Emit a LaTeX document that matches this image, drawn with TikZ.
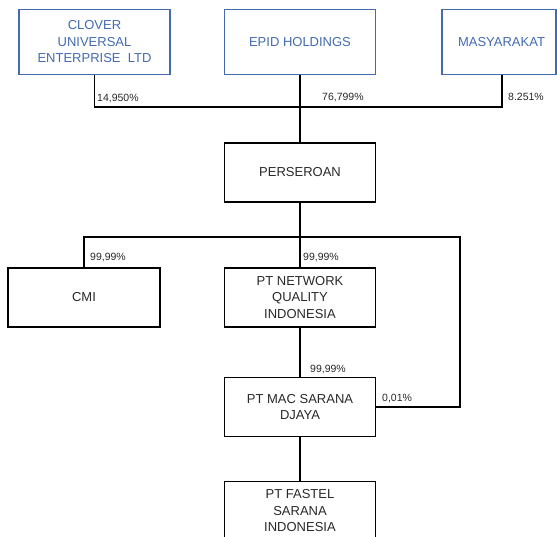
\documentclass[tikz,border=0pt]{standalone}
\usepackage{fontspec}
\setmainfont{Liberation Sans}
\definecolor{boxblue}{RGB}{68,106,175}
\definecolor{txt}{RGB}{40,40,40}
\begin{document}
\begin{tikzpicture}[x=1pt,y=-1pt,
  box/.style={draw, line width=1.1pt, rectangle, inner sep=0pt, align=center, text=txt,
    minimum width=151pt, minimum height=59pt, font=\fontsize{13}{16.5}\selectfont},
  topbox/.style={box, draw=boxblue, text=boxblue, minimum height=65pt},
  link/.style={line width=1.4pt},
  pct/.style={anchor=base west, inner sep=0pt, text=txt, font=\fontsize{10.5}{12}\selectfont}]
\useasboundingbox (0,0) rectangle (557,536);
\node[topbox] (clover) at (94.5,42) {CLOVER\\UNIVERSAL\\ENTERPRISE\ \ LTD};
\node[topbox] (epid) at (300,42) {EPID HOLDINGS};
\node[topbox, minimum width=114pt] (masy) at (499,42) {\hspace*{5pt}MASYARAKAT};
\node[box] (pers) at (300,172.5) {PERSEROAN};
\node[box, minimum width=152pt] (cmi) at (84,297.5) {CMI};
\node[box] (ptn) at (300,297.5) {PT NETWORK\\QUALITY\\INDONESIA};
\node[box] (mac) at (300,407) {PT MAC SARANA\\DJAYA};
\node[box] (fastel) at (300,511) {PT FASTEL\\SARANA\\INDONESIA};
\coordinate (j1) at (300,107);
\coordinate (c1) at (460,237);
\draw[link] (clover.south) |- (j1) -| ([xshift=3pt]masy.south);
\draw[link] (epid.south) -- (pers.north);
\draw[link] (cmi.north) |- (c1) |- (mac.east);
\draw[link] (pers.south) -- (ptn.north);
\draw[link] (ptn.south) -- (mac.north);
\draw[link] (mac.south) -- (fastel.north);
\node[pct] (l1) at (97,101) {14,950\%};
\node[pct] (l2) at (322,100.5) {76,799\%};
\node[pct] (l3) at (508,100.5) {8.251\%};
\node[pct] (l4) at (90,260) {99,99\%};
\node[pct] (l5) at (303,260) {99,99\%};
\node[pct] (l6) at (310,372) {99,99\%};
\node[pct] (l7) at (382,401) {0,01\%};
\end{tikzpicture}
\end{document}
